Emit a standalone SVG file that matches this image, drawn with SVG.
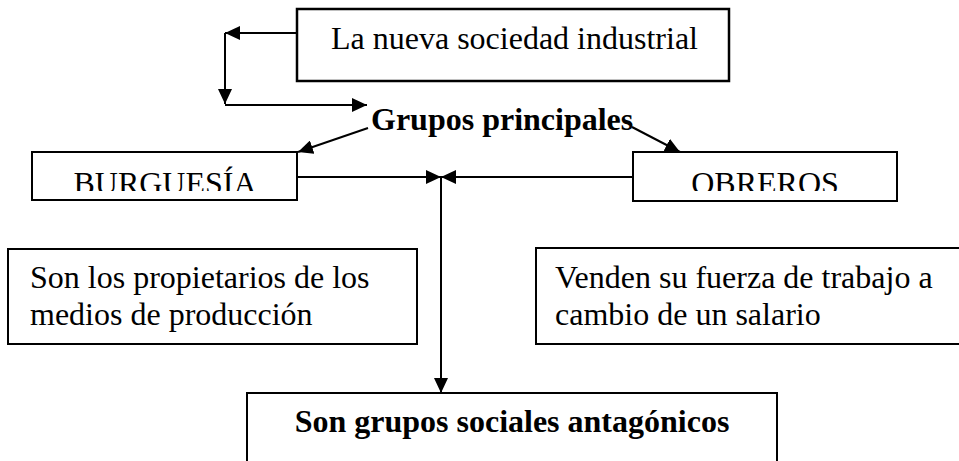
<svg xmlns="http://www.w3.org/2000/svg" width="959" height="461" viewBox="0 0 959 461">
  <style>
    .box { fill: #ffffff; stroke: #000000; stroke-width: 2; }
    .txt { font-family: "Liberation Serif", "Times New Roman", serif; font-size: 32px; fill: #000000; }
    .bold { font-weight: bold; }
    .conn { fill: none; stroke: #000000; stroke-width: 2; }
  </style>
  <defs>
    <marker id="arrow" markerUnits="userSpaceOnUse" markerWidth="16" markerHeight="14" refX="15" refY="7" orient="auto">
      <path d="M0,0 L15,7 L0,14 z" fill="#000000"/>
    </marker>
    <clipPath id="clipB">
      <rect x="33" y="153" width="263" height="38"/>
    </clipPath>
    <clipPath id="clipO">
      <rect x="634" y="153" width="262" height="38"/>
    </clipPath>
  </defs>

  <g id="connectors">
    <line class="conn" x1="297" y1="33" x2="225" y2="33" marker-end="url(#arrow)"/>
    <line class="conn" x1="225" y1="33" x2="225" y2="104" marker-end="url(#arrow)"/>
    <line class="conn" x1="225" y1="105" x2="367" y2="105" marker-end="url(#arrow)"/>
    <line class="conn" x1="368" y1="128" x2="298" y2="152" marker-end="url(#arrow)"/>
    <line class="conn" x1="632" y1="127" x2="680" y2="152" marker-end="url(#arrow)"/>
    <line class="conn" x1="297" y1="177" x2="441" y2="177" marker-end="url(#arrow)"/>
    <line class="conn" x1="633" y1="177" x2="441" y2="177" marker-end="url(#arrow)"/>
    <line class="conn" x1="441" y1="177" x2="441" y2="393" marker-end="url(#arrow)"/>
  </g>

  <g id="sociedad">
    <rect class="box" x="297" y="9" width="432" height="72" style="stroke-width:2.5"/>
    <text class="txt" x="331" y="49">La nueva sociedad industrial</text>
  </g>

  <g id="grupos">
    <text class="txt bold" x="371" y="130">Grupos principales</text>
  </g>

  <g id="burguesia">
    <rect class="box" x="32" y="152" width="265" height="48"/>
    <text class="txt" x="165" y="194" text-anchor="middle" clip-path="url(#clipB)">BURGUESÍA</text>
  </g>

  <g id="obreros">
    <rect class="box" x="633" y="152" width="264" height="49"/>
    <text class="txt" x="765" y="194" text-anchor="middle" clip-path="url(#clipO)">OBREROS</text>
  </g>

  <g id="propietarios">
    <rect class="box" x="8" y="249" width="409" height="95"/>
    <text class="txt" x="30" y="288">Son los propietarios de los</text>
    <text class="txt" x="30" y="325">medios de producción</text>
  </g>

  <g id="venden">
    <rect class="box" x="536" y="248" width="440" height="96"/>
    <text class="txt" x="555" y="288">Venden su fuerza de trabajo a</text>
    <text class="txt" x="555" y="325">cambio de un salario</text>
  </g>

  <g id="antagonicos">
    <rect class="box" x="247" y="393" width="530" height="100"/>
    <text class="txt bold" x="512" y="432" text-anchor="middle">Son grupos sociales antagónicos</text>
  </g>
</svg>
